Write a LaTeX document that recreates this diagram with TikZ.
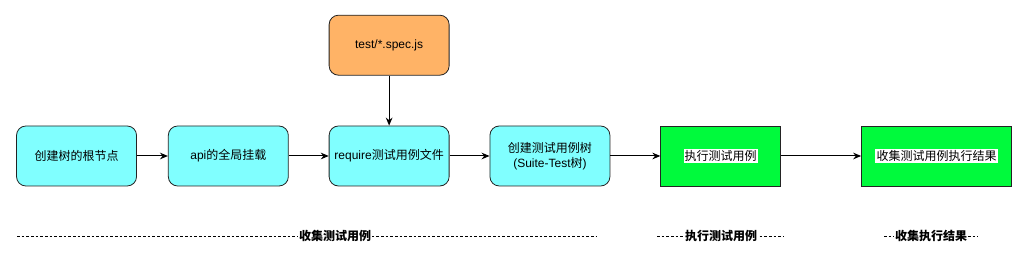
\documentclass[tikz,border=0pt]{standalone}
\usepackage{fontspec}
\setmainfont{Liberation Sans}
\newfontfamily\cjk{Noto Sans CJK SC}
\usepackage{tikz}
\usetikzlibrary{arrows.meta, positioning, calc}
\definecolor{casecyan}{RGB}{128, 255, 255}
\definecolor{specorange}{RGB}{255, 179, 102}
\definecolor{rungreen}{RGB}{0, 250, 60}
\definecolor{edgegray}{RGB}{35, 35, 35}
\setlength{\fboxsep}{0.8pt}

\begin{document}
\begin{tikzpicture}[
  every node/.style={font=\fontsize{9}{11}\selectfont},
  stage/.style={
    draw=edgegray, fill=casecyan, rounded corners=7pt,
    minimum width=90pt, minimum height=45pt, align=center,
    inner sep=2pt, line width=0.6pt
  },
  source/.style={stage, fill=specorange},
  runbox/.style={
    draw=edgegray, fill=rungreen,
    minimum width=90pt, minimum height=45pt, align=center,
    inner sep=2pt, line width=0.6pt
  },
  arrow/.style={-{Stealth[length=6pt, width=5pt]}, line width=0.75pt},
  phase/.style={dash pattern=on 2pt off 1.5pt, line width=0.5pt},
  label/.style={font=\cjk\bfseries\fontsize{9}{11}\selectfont, fill=white, inner sep=1pt}
]
  \useasboundingbox (0,0) rectangle (768pt,197.25pt);

  % main row
  \node[stage] (root) at (57.4pt,80.25pt) {\cjk 创建树的根节点};
  \node[stage, right=23.25pt of root] (api) {api{\cjk 的全局挂载}};
  \node[stage, right=30pt of api] (req) {require{\cjk 测试用例文件}};
  \node[stage, right=30pt of req] (tree) {{\cjk 创建测试用例树}\\(Suite-Test{\cjk 树})};
  \node[runbox, right=37.5pt of tree] (run) {\colorbox{white}{\cjk 执行测试用例}};
  \node[runbox, right=60pt of run, minimum width=112.5pt] (result) {\colorbox{white}{\cjk 收集测试用例执行结果}};

  % spec files on top
  \node[source, above=37.5pt of req] (spec) {test/*.spec.js};

  % arrows
  \draw[arrow] (spec) -- (req);
  \draw[arrow] (root) -- (api);
  \draw[arrow] (api) -- (req);
  \draw[arrow] (req) -- (tree);
  \draw[arrow] (tree) -- (run);
  \draw[arrow] (run) -- (result);

  % phases
  \draw[phase] (12.75pt,20.25pt) -- (447.75pt,20.25pt);
  \node[label] (collect) at (251.25pt,20.25pt) {收集测试用例};
  \draw[phase] (492.75pt,20.25pt) -- (588pt,20.25pt);
  \node[label] (execute) at (540.75pt,20.25pt) {执行测试用例};
  \draw[phase] (663pt,20.25pt) -- (733.5pt,20.25pt);
  \node[label] (gather) at (698.25pt,20.25pt) {收集执行结果};

\end{tikzpicture}
\end{document}
